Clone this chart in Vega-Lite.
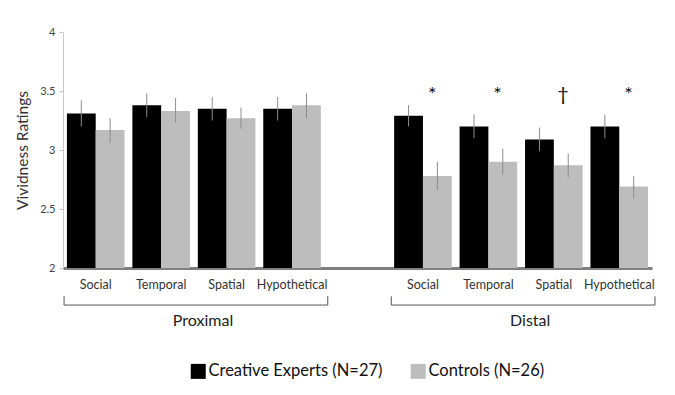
{
  "$schema": "https://vega.github.io/schema/vega-lite/v6.json",
  "autosize": "none",
  "width": 589,
  "height": 236,
  "padding": {"left": 63, "top": 32, "right": 23, "bottom": 127},
  "background": "white",
  "config": {"font": "Lato", "view": {"stroke": null}},
  "datasets": {
    "bars": [
      {"slot": "P-Social", "group": "Creative Experts (N=27)", "value": 3.31, "lo": 3.2, "hi": 3.42},
      {"slot": "P-Social", "group": "Controls (N=26)", "value": 3.17, "lo": 3.06, "hi": 3.27},
      {"slot": "P-Temporal", "group": "Creative Experts (N=27)", "value": 3.38, "lo": 3.28, "hi": 3.48},
      {"slot": "P-Temporal", "group": "Controls (N=26)", "value": 3.33, "lo": 3.23, "hi": 3.44},
      {"slot": "P-Spatial", "group": "Creative Experts (N=27)", "value": 3.35, "lo": 3.25, "hi": 3.45},
      {"slot": "P-Spatial", "group": "Controls (N=26)", "value": 3.27, "lo": 3.18, "hi": 3.36},
      {"slot": "P-Hypothetical", "group": "Creative Experts (N=27)", "value": 3.35, "lo": 3.25, "hi": 3.45},
      {"slot": "P-Hypothetical", "group": "Controls (N=26)", "value": 3.38, "lo": 3.27, "hi": 3.48},
      {"slot": "D-Social", "group": "Creative Experts (N=27)", "value": 3.29, "lo": 3.2, "hi": 3.38},
      {"slot": "D-Social", "group": "Controls (N=26)", "value": 2.78, "lo": 2.66, "hi": 2.9},
      {"slot": "D-Temporal", "group": "Creative Experts (N=27)", "value": 3.2, "lo": 3.1, "hi": 3.3},
      {"slot": "D-Temporal", "group": "Controls (N=26)", "value": 2.9, "lo": 2.79, "hi": 3.01},
      {"slot": "D-Spatial", "group": "Creative Experts (N=27)", "value": 3.09, "lo": 2.99, "hi": 3.19},
      {"slot": "D-Spatial", "group": "Controls (N=26)", "value": 2.87, "lo": 2.77, "hi": 2.97},
      {"slot": "D-Hypothetical", "group": "Creative Experts (N=27)", "value": 3.2, "lo": 3.1, "hi": 3.3},
      {"slot": "D-Hypothetical", "group": "Controls (N=26)", "value": 2.69, "lo": 2.59, "hi": 2.78}
    ],
    "sig": [
      {"slot": "D-Social", "sym": "*"},
      {"slot": "D-Temporal", "sym": "*"},
      {"slot": "D-Spatial", "sym": "†"},
      {"slot": "D-Hypothetical", "sym": "*"}
    ],
    "brackets": [
      {"start": "P-Social", "end": "P-Hypothetical", "mid": "P-Spatial", "label": "Proximal"},
      {"start": "D-Social", "end": "D-Hypothetical", "mid": "D-Spatial", "label": "Distal"}
    ]
  },
  "layer": [
    {
      "data": {"name": "bars"},
      "mark": {"type": "bar"},
      "encoding": {
        "x": {
          "field": "slot", "type": "nominal", "sort": null,
          "scale": {
            "domain": ["P-Social", "P-Temporal", "P-Spatial", "P-Hypothetical", "gap", "D-Social", "D-Temporal", "D-Spatial", "D-Hypothetical"],
            "paddingInner": 0.12, "paddingOuter": 0.06
          },
          "axis": {
            "title": null, "labelAngle": 0, "ticks": false,
            "labelExpr": "datum.value == 'gap' ? '' : split(datum.value, '-')[1]",
            "labelFontSize": 12.5, "labelColor": "#333", "labelPadding": 10,
            "domainColor": "#808080", "domainWidth": 3
          }
        },
        "xOffset": {
          "field": "group", "type": "nominal",
          "scale": {"domain": ["Creative Experts (N=27)", "Controls (N=26)"], "paddingInner": 0, "paddingOuter": 0}
        },
        "y": {
          "field": "value", "type": "quantitative",
          "scale": {"domain": [2, 4], "nice": false, "zero": false},
          "axis": {
            "title": "Vividness Ratings", "values": [2, 2.5, 3, 3.5, 4],
            "labelExpr": "'' + datum.value", "grid": false,
            "labelFontSize": 11, "labelColor": "#444", "labelPadding": 4,
            "tickColor": "#c8c8c8", "tickSize": 4, "domainColor": "#c8c8c8",
            "titleFontSize": 15.5, "titleFontWeight": "normal", "titleColor": "#333", "titlePadding": 9
          }
        },
        "y2": {"datum": 2},
        "color": {
          "field": "group", "type": "nominal",
          "scale": {"domain": ["Creative Experts (N=27)", "Controls (N=26)"], "range": ["#000000", "#bdbdbd"]},
          "legend": {
            "title": null, "orient": "none", "legendX": 127, "legendY": 331,
            "direction": "horizontal", "padding": 0, "symbolType": "square", "symbolSize": 225,
            "symbolStrokeWidth": 0, "labelFontSize": 16.5, "labelColor": "#111", "labelOffset": 2,
            "labelLimit": 400, "columnPadding": 27
          }
        }
      }
    },
    {
      "data": {"name": "bars"},
      "mark": {"type": "rule", "color": "#8c8c8c", "strokeWidth": 1},
      "encoding": {
        "x": {"field": "slot", "type": "nominal", "sort": null},
        "xOffset": {"field": "group", "type": "nominal"},
        "y": {"field": "lo", "type": "quantitative", "scale": {"domain": [2, 4], "nice": false, "zero": false}},
        "y2": {"field": "hi"}
      }
    },
    {
      "data": {"name": "sig"},
      "mark": {"type": "text", "fontSize": 20, "baseline": "middle", "align": "center", "color": "#111"},
      "encoding": {
        "x": {"field": "slot", "type": "nominal", "sort": null, "bandPosition": 0.66},
        "y": {"datum": 3.47, "type": "quantitative", "scale": {"domain": [2, 4], "nice": false, "zero": false}},
        "text": {"field": "sym"}
      }
    },
    {
      "data": {"name": "brackets"},
      "mark": {"type": "rule", "color": "#555", "strokeWidth": 1},
      "encoding": {
        "x": {"field": "start", "type": "nominal", "sort": null, "bandPosition": -0.05},
        "x2": {"field": "end", "bandPosition": 1.12},
        "y": {"datum": 1.686, "type": "quantitative", "scale": {"domain": [2, 4], "nice": false, "zero": false}}
      }
    },
    {
      "data": {"name": "brackets"},
      "mark": {"type": "rule", "color": "#555", "strokeWidth": 1},
      "encoding": {
        "x": {"field": "start", "type": "nominal", "sort": null, "bandPosition": -0.05},
        "y": {"datum": 1.686, "type": "quantitative", "scale": {"domain": [2, 4], "nice": false, "zero": false}},
        "y2": {"datum": 1.76}
      }
    },
    {
      "data": {"name": "brackets"},
      "mark": {"type": "rule", "color": "#555", "strokeWidth": 1},
      "encoding": {
        "x": {"field": "end", "type": "nominal", "sort": null, "bandPosition": 1.12},
        "y": {"datum": 1.686, "type": "quantitative", "scale": {"domain": [2, 4], "nice": false, "zero": false}},
        "y2": {"datum": 1.76}
      }
    },
    {
      "data": {"name": "brackets"},
      "mark": {"type": "text", "fontSize": 16, "baseline": "middle", "align": "center", "color": "#222"},
      "encoding": {
        "x": {"field": "mid", "type": "nominal", "sort": null, "bandPosition": 0.09},
        "y": {"datum": 1.555, "type": "quantitative", "scale": {"domain": [2, 4], "nice": false, "zero": false}},
        "text": {"field": "label"}
      }
    }
  ]
}
